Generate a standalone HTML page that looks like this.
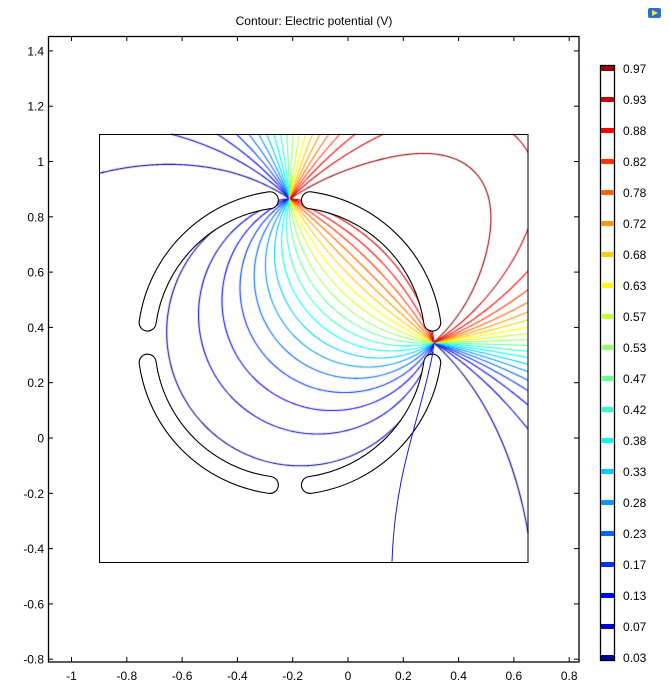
<!DOCTYPE html>
<html><head><meta charset="utf-8"><style>
body{margin:0;background:#fff;width:670px;height:685px;overflow:hidden;position:relative;font-family:"Liberation Sans",sans-serif}
#c{position:absolute;left:0;top:0}
svg{position:absolute;left:0;top:0}
</style></head><body>
<canvas id="c" width="670" height="685"></canvas>
<svg id="s" width="670" height="685" xmlns="http://www.w3.org/2000/svg"></svg>
<script>
const X0=348,Y0=438,U=276.5;
const px=x=>X0+x*U, py=y=>Y0-y*U;
const cx=-0.21,cy=0.345,R=0.52;
const P1=[cx,cy+R],P2=[cx+R,cy],beta=Math.PI/2;
function om(x,y){
  const ax=P1[0]-x,ay=P1[1]-y,bx=P2[0]-x,by=P2[1]-y;
  let a=Math.atan2(bx*ay-by*ax,bx*ax+by*ay); if(a<0)a+=2*Math.PI;
  return (a-beta/2)/Math.PI;
}
function V(x,y){
  const dx=x-cx,dy=y-cy,r2=dx*dx+dy*dy;
  if(r2<=R*R) return om(x,y);
  const rho=Math.sqrt(r2);
  const v=Math.atan2(dy,dx);
  const k=0.14+0.09*Math.min(Math.max(v/(Math.PI/2),0),1);
  const h=Math.max(k*Math.log(rho/R),1e-6);
  return 0.5*(Math.tanh(v/h/3.5)-Math.tanh((v-Math.PI/2)/h/3.5));
}
function jet(v){
  const r=Math.min(Math.max(Math.min(4*v-1.5,-4*v+4.5),0),1);
  const g=Math.min(Math.max(Math.min(4*v-0.5,-4*v+3.5),0),1);
  const b=Math.min(Math.max(Math.min(4*v+0.5,-4*v+2.5),0),1);
  return `rgb(${Math.round(r*255)},${Math.round(g*255)},${Math.round(b*255)})`;
}
const ctx=document.getElementById('c').getContext('2d');
const L=99,T=134,Rt=528,B=562,st=1;
const nx=Math.floor((Rt-L)/st)+1, ny=Math.floor((B-T)/st)+1;
const G=new Float64Array(nx*ny);
for(let j=0;j<ny;j++)for(let i=0;i<nx;i++){const X=L+i*st,Y=T+j*st;G[j*nx+i]=V((X-X0)/U,(Y0-Y)/U);}
const levels=[];for(let k=0;k<20;k++)levels.push((k+0.5)/20);
ctx.lineWidth=1.1;
for(const lv of levels){
  ctx.strokeStyle=jet(lv);ctx.beginPath();
  for(let j=0;j<ny-1;j++)for(let i=0;i<nx-1;i++){
    const a=G[j*nx+i],b=G[j*nx+i+1],c=G[(j+1)*nx+i+1],d=G[(j+1)*nx+i];
    const pts=[];const X=L+i*st,Y=T+j*st;
    if((a-lv)*(b-lv)<0&&Math.abs(a-b)<0.5)pts.push([X+st*(lv-a)/(b-a),Y]);
    if((b-lv)*(c-lv)<0&&Math.abs(b-c)<0.5)pts.push([X+st,Y+st*(lv-b)/(c-b)]);
    if((d-lv)*(c-lv)<0&&Math.abs(d-c)<0.5)pts.push([X+st*(lv-d)/(c-d),Y+st]);
    if((a-lv)*(d-lv)<0&&Math.abs(a-d)<0.5)pts.push([X,Y+st*(lv-a)/(d-a)]);
    if(pts.length>=2){ctx.moveTo(pts[0][0],pts[0][1]);ctx.lineTo(pts[1][0],pts[1][1]);
      if(pts.length==4){ctx.moveTo(pts[2][0],pts[2][1]);ctx.lineTo(pts[3][0],pts[3][1]);}}
  }
  ctx.stroke();
}
let s='';
const PCX=px(cx),PCY=py(cy),PR=R*U;
function arc(a1,a2){const r=d=>d*Math.PI/180;
  const x1=PCX+PR*Math.cos(r(a1)),y1=PCY-PR*Math.sin(r(a1)),x2=PCX+PR*Math.cos(r(a2)),y2=PCY-PR*Math.sin(r(a2));
  return `M${x1.toFixed(1)},${y1.toFixed(1)} A${PR},${PR} 0 0 0 ${x2.toFixed(1)},${y2.toFixed(1)}`;}
const segs=[[8,82],[98,172],[188,262],[278,352]];
for(const[a,b]of segs)s+=`<path d="${arc(a,b)}" fill="none" stroke="#000" stroke-width="18" stroke-linecap="round"/>`;
for(const[a,b]of segs)s+=`<path d="${arc(a,b)}" fill="none" stroke="#fff" stroke-width="15.8" stroke-linecap="round"/>`;
s+=`<path d="M433,352 C420,420 395,470 392,562" fill="none" stroke="#1a1ad0" stroke-width="1"/>`;
s+=`<rect x="99.5" y="134.5" width="428.5" height="428" fill="none" stroke="#000" stroke-width="1"/>`;
s+=`<rect x="48.5" y="36.5" width="530.5" height="625.5" fill="none" stroke="#000" stroke-width="1.3"/>`;
const xt=[-1,-0.8,-0.6,-0.4,-0.2,0,0.2,0.4,0.6,0.8];
for(const v of xt){const x=px(v).toFixed(1);
  s+=`<line x1="${x}" y1="662" x2="${x}" y2="657" stroke="#000"/><line x1="${x}" y1="36" x2="${x}" y2="41" stroke="#000"/>`;
  s+=`<text x="${x}" y="680" font-size="12" text-anchor="middle">${v}</text>`;}
const yt=[1.4,1.2,1,0.8,0.6,0.4,0.2,0,-0.2,-0.4,-0.6,-0.8];
for(const v of yt){const y=py(v).toFixed(1);
  s+=`<line x1="48" y1="${y}" x2="53" y2="${y}" stroke="#000"/><line x1="579" y1="${y}" x2="574" y2="${y}" stroke="#000"/>`;
  s+=`<text x="44" y="${(+y+4.5).toFixed(1)}" font-size="12" text-anchor="end">${v}</text>`;}
s+=`<text x="314" y="25" font-size="12" text-anchor="middle">Contour: Electric potential (V)</text>`;
s+=`<rect x="600.5" y="65.5" width="14" height="595" fill="#fff" stroke="#000" stroke-width="1.3"/>`;
const lab=['0.97','0.93','0.88','0.82','0.78','0.72','0.68','0.63','0.57','0.53','0.47','0.42','0.38','0.33','0.28','0.23','0.17','0.13','0.07','0.03'];
for(let k=0;k<20;k++){const y=67+k*31;const v=(19-k+0.5)/20;
  s+=`<rect x="601" y="${y-1}" width="13" height="5" fill="${jet(v)}"/>`;
  s+=`<text x="623" y="${y+6}" font-size="12">${lab[k]}</text>`;}
s+=`<rect x="648" y="8" width="13" height="10" rx="2" fill="#2a6fd0"/><polygon points="652,10 658,13 652,16" fill="#f5e050"/>`;
document.getElementById('s').innerHTML=s;
</script>
</body></html>
